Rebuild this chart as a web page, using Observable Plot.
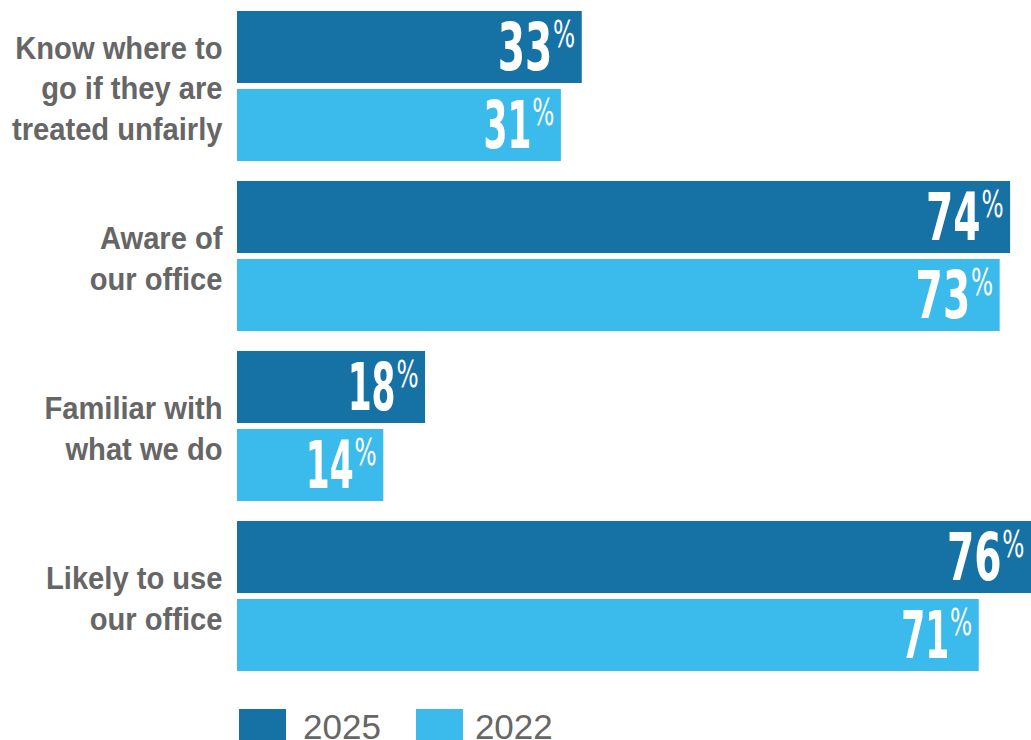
<!DOCTYPE html>
<html>
<head>
<meta charset="utf-8">
<script src="https://cdn.jsdelivr.net/npm/d3@7"></script>
<script src="https://cdn.jsdelivr.net/npm/@observablehq/plot@0.6"></script>
<style>
  html, body { margin: 0; padding: 0; background: #fff; overflow: hidden; }
  #chart svg { display: block; }
  .legend { display: flex; align-items: center; margin-top: 19px; height: 31px; font-family: "Liberation Sans", Arial, sans-serif; font-size: 35px; color: #666; }
  .legend .sw { width: 47px; height: 31px; display: inline-block; }
  .legend span.lbl { line-height: 31px; position: relative; top: 2px; }
</style>
</head>
<body>
<div id="chart"></div>
<script>
const categories = ["Know where to\ngo if they are\ntreated unfairly", "Aware of\nour office", "Familiar with\nwhat we do", "Likely to use\nour office"];
const years = ["2025", "2022"];
const values2025 = [33, 74, 18, 76];
const values2022 = [31, 73, 14, 71];
const colors = ["#1672A5", "#3ABBEB"];

const data = [];
categories.forEach((c, i) => {
  data.push({cat: c, year: "2025", value: values2025[i]});
  data.push({cat: c, year: "2022", value: values2022[i]});
});

const numFont = "'Liberation Sans Narrow', 'DejaVu Sans Condensed', sans-serif";

const chart = Plot.plot({
  width: 1031,
  height: 690,
  marginLeft: 237,
  marginRight: 0,
  marginTop: 10,
  marginBottom: 18,
  x: {domain: [0, 76], axis: null},
  fy: {domain: categories, paddingInner: 0.118, paddingOuter: 0, axis: null, label: null},
  y: {domain: years, paddingInner: 0.077, paddingOuter: 0, axis: null, label: null},
  color: {domain: years, range: colors},
  marks: [
    Plot.barX(data, {fy: "cat", y: "year", x: "value", fill: "year"}),
    Plot.text(data, {fy: "cat", y: "year", x: "value", text: d => String(d.value), textAnchor: "end", dx: -30, fill: "white", fontSize: 66, fontWeight: "bold", fontFamily: numFont, lineAnchor: "middle", dy: 1, className: "num"}),
    Plot.text(data, {fy: "cat", y: "year", x: "value", text: d => "%", textAnchor: "end", dx: -7, fill: "white", fontSize: 37, fontFamily: numFont, lineAnchor: "middle", dy: -12, className: "pct"}),
    Plot.axisFy({anchor: "left", tickSize: 0, tickPadding: 15, fontSize: 31, fontWeight: "bold", fill: "#666", lineHeight: 1.3, label: null, fontFamily: "'Liberation Sans', Arial, sans-serif", className: "cats"})
  ]
});

document.getElementById("chart").appendChild(chart);

// condense glyphs to mimic a narrow display face
d3.select(chart).selectAll(".num text").each(function() {
  const w = this.getComputedTextLength();
  const s = this.textContent;
  const f = s.includes("1") ? 0.58 : 0.66;
  d3.select(this).attr("textLength", w * f).attr("lengthAdjust", "spacingAndGlyphs");
});
d3.select(chart).selectAll(".pct text").each(function() {
  const w = this.getComputedTextLength();
  d3.select(this).attr("textLength", w * 0.7).attr("lengthAdjust", "spacingAndGlyphs");
});
d3.select(chart).selectAll(".cats text tspan, .cats text").each(function() {
  if (this.tagName === "text" && this.querySelector("tspan")) return;
  const w = this.getComputedTextLength();
  d3.select(this).attr("textLength", w * 0.94).attr("lengthAdjust", "spacingAndGlyphs");
});

const legend = document.createElement("div");
legend.className = "legend";
const gaps = [[239, 17], [35, 12]];
legend.innerHTML = years.map((y, i) =>
  `<span class="sw" style="background:${colors[i]};margin-left:${gaps[i][0]}px"></span><span class="lbl" style="margin-left:${gaps[i][1]}px">${y}</span>`
).join("");
document.body.appendChild(legend);
</script>
</body>
</html>
